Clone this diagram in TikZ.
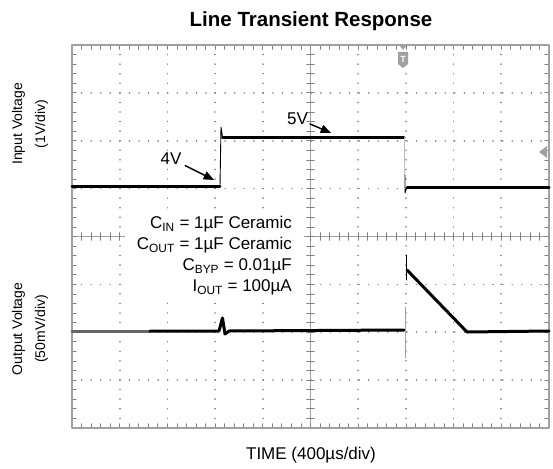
\documentclass[tikz,border=0pt]{standalone}
\usepackage{fontspec}
\setmainfont{Liberation Sans}
\usepackage{pgf,tikz}
\usetikzlibrary{arrows}
\definecolor{aqaqaq}{rgb}{0.6274509803921569,0.6274509803921569,0.6274509803921569}
\definecolor{cqcqcq}{rgb}{0.7529411764705882,0.7529411764705882,0.7529411764705882}
\definecolor{wvwvwv}{rgb}{0.4,0.4,0.4}
\definecolor{zzzzzz}{rgb}{0.5,0.5,0.5}
\tikzset{
  gridline/.style={color=zzzzzz,line width=1.7pt,dash pattern=on 0.01pt off 9.56pt},
  axisline/.style={color=aqaqaq,line width=0.7pt},
  tick/.style={color=zzzzzz,line width=0.8pt},
  frame/.style={color=aqaqaq,line width=1.8pt},
  trace/.style={line width=3pt,color=black},
  edge/.style={line width=0.9pt,color=black},
  lbl/.style={inner sep=0pt,font=\fontsize{17}{20}\selectfont},
  ttl/.style={inner sep=0pt,font=\fontsize{20.5}{24}\selectfont\bfseries},
  ylbl/.style={inner sep=0pt,rotate=90,align=center,font=\fontsize{14}{23}\selectfont},
  info/.style={align=right,fill=white,inner xsep=12pt,inner ysep=5pt,font=\fontsize{17}{21}\selectfont}
}
\begin{document}
\begin{tikzpicture}[line cap=round,line join=round,>=triangle 45,x=1pt,y=-1pt]
\clip(0,0) rectangle (553,468);
\begin{scope}[shift={(72,45)},x=47.7pt,y=-47.875pt]
\foreach \i in {1,2,3,4,6,7,8,9} \draw[gridline] (\i,0) -- (\i,8);
\foreach \j in {1,2,3,5,6,7} \draw[gridline] (0,\j) -- (10,\j);
\draw[axisline] (5,0) -- (5,8);
\draw[axisline] (0,4) -- (10,4);
\foreach \k in {1,...,49} {
  \draw[tick] (\k/5,3.92) -- (\k/5,4.08);
  \draw[tick] (\k/5,0) -- (\k/5,0.09);
  \draw[tick] (\k/5,8) -- (\k/5,7.91);
}
\foreach \k in {1,...,39} {
  \draw[tick] (4.92,\k/5) -- (5.08,\k/5);
  \draw[tick] (0,\k/5) -- (0.09,\k/5);
  \draw[tick] (10,\k/5) -- (9.91,\k/5);
}
\draw[frame] (0,0) rectangle (10,8);
\end{scope}
\node[info,anchor=east] (caps) at (304,256) {C\textsubscript{IN} = 1µF Ceramic\\C\textsubscript{OUT} = 1µF Ceramic\\C\textsubscript{BYP} = 0.01µF\\I\textsubscript{OUT} = 100µA};
\fill[color=aqaqaq] (399,45) -- (407,45) -- (403,50) -- cycle;
\fill[color=aqaqaq] (398,52) -- (408,52) -- (408,64) -- (403,68) -- (398,64) -- cycle;
\node[inner sep=0pt,text=white,font=\fontsize{9}{9}\selectfont\bfseries] (trigT) at (403,59) {T};
\fill[color=aqaqaq] (539,152) -- (547,146) -- (547,158) -- cycle;
\draw[trace] (72,186) -- (220,186);
\draw[edge] (220,186) -- (221,127) -- (222.5,137);
\draw[trace] (222.5,137) -- (404,137);
\draw[edge,color=cqcqcq] (404,137) -- (404,175);
\draw[edge] (405,175) -- (405,193) -- (407,187);
\draw[trace] (407,187) -- (549,187);
\draw[trace,color=wvwvwv] (72,331) -- (150,331);
\draw[trace] (150,331) -- (219,331) -- (222.5,318) -- (225,334) -- (229,331) -- (404,330);
\draw[edge,color=aqaqaq] (405,307) -- (405,358);
\draw[edge] (406,255) -- (406,280);
\draw[trace] (407,270) -- (467,332) -- (549,331);
\node[ttl] (title) at (311,21) {Line Transient Response};
\node[lbl] (time) at (311,455) {TIME (400µs/div)};
\node[ylbl] (inlbl) at (30,124) {Input Voltage\\(1V/div)};
\node[ylbl] (outlbl) at (30,329) {Output Voltage\\(50mV/div)};
\node[lbl] (vfour) at (171,158.5) {4V};
\coordinate (vfourtip) at (214,180);
\draw[->,line width=1.4pt,shorten <=4pt] (vfour) -- (vfourtip);
\node[lbl] (vfive) at (297.5,118.5) {5V};
\coordinate (vfivetip) at (331,133);
\draw[->,line width=1.4pt,shorten <=2pt] (vfive) -- (vfivetip);
\end{tikzpicture}
\end{document}
